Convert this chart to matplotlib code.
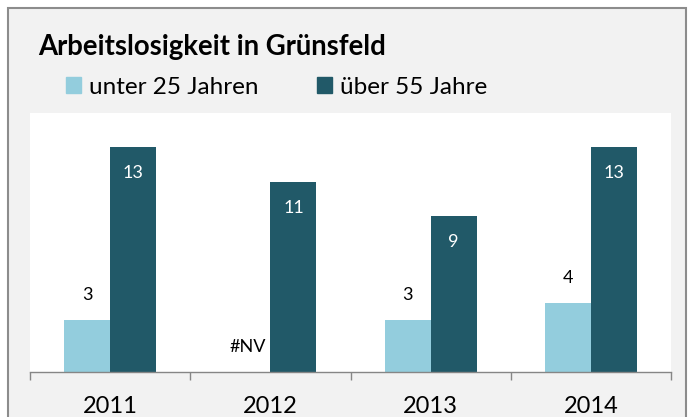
import matplotlib
matplotlib.use("Agg")
import matplotlib.pyplot as plt
from matplotlib.patches import Rectangle
import numpy as np

years = ["2011", "2012", "2013", "2014"]
under25 = [3, None, 3, 4]
over55 = [13, 11, 9, 13]
series_names = ["unter 25 Jahren", "über 55 Jahre"]

c_light = "#93CDDD"
c_dark = "#215968"
bg = "#F2F2F2"

plt.rcParams['font.family'] = ['Lato', 'DejaVu Sans']

W, H = 689, 417
fig = plt.figure(figsize=(W / 100, H / 100), dpi=100)
fig.patch.set_facecolor("white")

# chart background with border
bgax = fig.add_axes([0, 0, 1, 1], zorder=-10)
bgax.set_xlim(0, W)
bgax.set_ylim(H, 0)
bgax.axis("off")
bgax.add_patch(Rectangle((8, 8), 686 - 8, H + 20, facecolor=bg,
                         edgecolor="#8C8C8C", linewidth=1.5))

ax = fig.add_axes([30 / W, (H - 372) / H, (671 - 30) / W, (372 - 113) / H])
ax.set_facecolor("white")
x = np.arange(len(years))
w = 0.2875
u_vals = [v if v is not None else 0 for v in under25]
ax.bar(x - w / 2, u_vals, w, color=c_light, zorder=2)
ax.bar(x + w / 2, over55, w, color=c_dark, zorder=2)

ax.set_xlim(-0.5, 3.5)
ax.set_ylim(0, 14.97)
ax.set_yticks([])
for s in ["top", "right", "left"]:
    ax.spines[s].set_visible(False)
ax.spines["bottom"].set_color("#868686")
ax.spines["bottom"].set_linewidth(1.0)
ax.spines["bottom"].set_zorder(3)

ax.set_xticks(np.arange(-0.5, 4.0, 1.0))
ax.set_xticklabels([])
ax.tick_params(axis="x", which="major", direction="out", length=6, color="#868686", width=1.0)
ax.set_xticks(x, minor=True)
ax.set_xticklabels(years, minor=True, fontsize=17, color="black")
ax.tick_params(axis="x", which="minor", length=0, pad=17)

# data labels
for xi, v in zip(x, under25):
    if v is None:
        ax.annotate("#NV", (xi - w / 2, 0), xytext=(0, 25 * 0.72), textcoords="offset points",
                    ha="center", va="center", fontsize=13, color="black")
    else:
        ax.annotate(str(v), (xi - w / 2, v), xytext=(0, 25 * 0.72), textcoords="offset points",
                    ha="center", va="center", fontsize=13, color="black")
for xi, v in zip(x, over55):
    ax.annotate(str(v), (xi + w / 2, v), xytext=(0, -26 * 0.72), textcoords="offset points",
                ha="center", va="center", fontsize=13, color="white")

fig.text(38 / W, 1 - 47 / H, "Arbeitslosigkeit in Grünsfeld", fontsize=19.8,
         fontweight="bold", ha="left", va="center", color="black")

handles = [Rectangle((0, 0), 1, 1, color=c_light), Rectangle((0, 0), 1, 1, color=c_dark)]
fig.legend(handles, series_names, loc="center left", bbox_to_anchor=(66 / W, 1 - 87 / H),
           ncol=2, frameon=False, fontsize=17.5, handlelength=0.6, handleheight=0.6,
           handletextpad=0.35, columnspacing=2.4, borderaxespad=0, borderpad=0)

fig.savefig("out.png", dpi=100, facecolor=fig.get_facecolor())
